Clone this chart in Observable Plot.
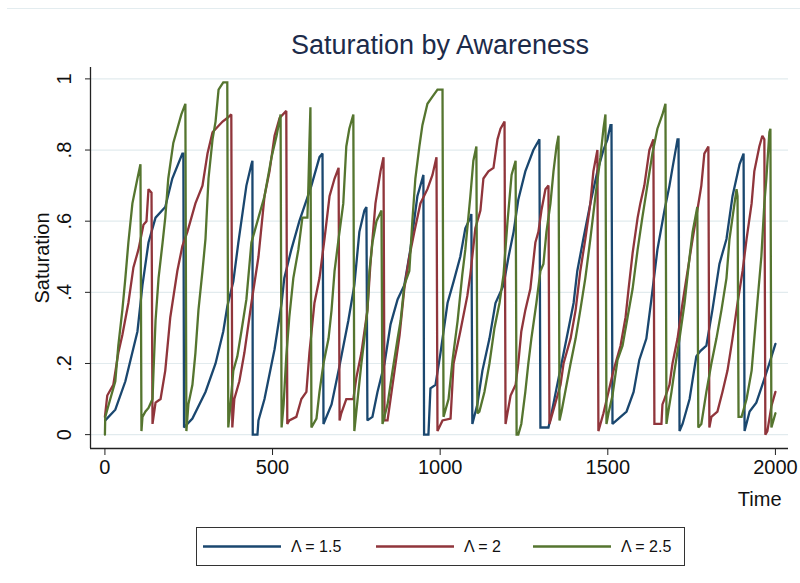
<!DOCTYPE html>
<html>
<head>
<meta charset="utf-8">
<script src="https://cdn.jsdelivr.net/npm/d3@7"></script>
<script src="https://cdn.jsdelivr.net/npm/@observablehq/plot@0.6"></script>
<style>
  html, body { margin: 0; padding: 0; background: #fff; }
  #wrap { position: relative; width: 800px; height: 583px; overflow: hidden; font-family: "Liberation Sans", Arial, sans-serif; }
  #topline { position: absolute; left: 7px; right: 0; top: 8px; height: 0; border-top: 1px solid #e3ecef; }
  #title { position: absolute; left: 90px; width: 700px; top: 32px; text-align: center; font-size: 27px; line-height: 27px; color: #1c2b4a; }
  #chart { position: absolute; left: 0; top: 0; }
  #legend { position: absolute; left: 196px; top: 527px; }
</style>
</head>
<body>
<div id="wrap">
  <div id="topline"></div>
  <div id="chart"></div>
  <div id="title">Saturation by Awareness</div>
  <svg id="legend" width="490" height="40"></svg>
</div>
<script>
// ---- data: [time, saturation] ----
const sat15 = [
  [1,.04],[31,.07],[61,.15],[97,.29],[112,.42],[130,.54],[151,.61],[180,.64],[201,.72],[231,.79],[234,.79],[236,.02],
  [261,.045],[300,.12],[330,.20],[353,.29],[365,.36],[383,.43],[398,.54],[422,.70],[437,.76],[440,.77],[441,0],
  [455,0],[458,.04],[476,.10],[506,.24],[527,.37],[535,.44],[556,.52],[580,.60],[616,.70],[640,.78],[649,.79],[652,.03],
  [676,.085],[697,.18],[726,.32],[744,.42],[759,.57],[774,.63],[780,.64],[783,.04],
  [798,.05],[813,.12],[834,.20],[852,.31],[873,.38],[893,.42],[911,.52],[932,.67],[947,.72],[950,.73],[952,0],
  [965,0],[971,.13],[986,.14],[1001,.23],[1022,.37],[1040,.43],[1060,.50],[1075,.58],[1090,.61],[1093,.62],[1096,.03],
  [1111,.085],[1126,.18],[1147,.27],[1165,.37],[1189,.42],[1204,.50],[1219,.57],[1233,.66],[1254,.74],[1278,.80],[1296,.83],[1299,.02],
  [1323,.02],[1329,.045],[1347,.13],[1377,.27],[1398,.37],[1409,.46],[1427,.55],[1448,.65],[1469,.74],[1487,.80],[1499,.83],[1508,.87],[1511,.87],[1514,.03],
  [1526,.04],[1556,.065],[1577,.12],[1594,.21],[1615,.27],[1630,.38],[1648,.52],[1669,.63],[1684,.70],[1693,.75],[1708,.83],[1711,.83],[1714,.01],
  [1723,.03],[1744,.10],[1764,.22],[1776,.235],[1794,.25],[1812,.35],[1833,.48],[1854,.55],[1872,.67],[1893,.76],[1905,.79],[1908,.01],
  [1923,.065],[1943,.09],[1961,.14],[1982,.20],[2000,.255]
];
const sat2 = [
  [0,.05],[7,.11],[25,.14],[40,.23],[52,.28],[70,.37],[85,.47],[100,.52],[115,.59],[124,.60],[130,.69],[139,.68],[142,.03],
  [151,.09],[166,.10],[180,.18],[195,.33],[216,.46],[231,.53],[246,.57],[270,.65],[291,.70],[306,.79],[321,.85],[351,.88],[365,.89],[377,.90],[380,.02],
  [386,.10],[401,.15],[416,.23],[437,.37],[458,.50],[476,.67],[491,.74],[506,.84],[521,.89],[541,.91],[544,.03],
  [550,.04],[571,.05],[586,.10],[601,.12],[610,.23],[625,.37],[640,.44],[655,.55],[670,.67],[685,.72],[697,.75],[700,.04],
  [705,.06],[720,.10],[741,.10],[750,.16],[765,.23],[783,.35],[792,.48],[807,.65],[822,.74],[831,.78],[834,.04],
  [843,.04],[852,.10],[864,.18],[879,.28],[893,.41],[908,.50],[923,.57],[941,.65],[962,.69],[977,.73],[989,.78],[992,.01],
  [1007,.04],[1031,.045],[1040,.20],[1060,.29],[1081,.39],[1090,.45],[1105,.58],[1120,.63],[1129,.72],[1144,.74],[1159,.75],[1171,.83],[1180,.86],[1192,.88],[1195,.03],
  [1210,.11],[1225,.14],[1233,.20],[1242,.29],[1254,.35],[1269,.41],[1284,.54],[1293,.57],[1302,.63],[1314,.69],[1323,.70],[1326,.03],
  [1332,.05],[1347,.10],[1359,.14],[1368,.20],[1389,.27],[1404,.35],[1418,.46],[1433,.55],[1448,.65],[1457,.74],[1469,.80],[1472,.01],
  [1478,.03],[1487,.06],[1502,.12],[1517,.18],[1538,.25],[1553,.33],[1562,.41],[1574,.51],[1589,.61],[1597,.65],[1609,.70],[1624,.80],[1636,.83],[1639,.03],
  [1660,.03],[1663,.085],[1669,.10],[1684,.14],[1693,.20],[1708,.27],[1723,.37],[1738,.46],[1753,.55],[1767,.63],[1779,.70],[1788,.79],[1800,.81],[1803,.02],
  [1809,.05],[1827,.065],[1842,.12],[1857,.18],[1872,.27],[1887,.37],[1902,.46],[1914,.55],[1929,.65],[1937,.74],[1952,.81],[1961,.84],[1967,.83],[1970,0],
  [1976,.01],[1988,.08],[2000,.12]
];
const sat25 = [
  [0,0],[1,.05],[16,.10],[31,.15],[40,.25],[52,.35],[61,.44],[70,.54],[82,.65],[97,.72],[106,.76],[109,.01],
  [112,.05],[121,.065],[130,.075],[142,.10],[145,.18],[151,.32],[160,.44],[172,.54],[180,.61],[189,.72],[204,.82],[216,.86],[228,.90],[240,.93],[243,.01],
  [249,.085],[261,.14],[270,.23],[279,.35],[291,.46],[300,.55],[309,.72],[321,.83],[330,.88],[339,.97],[353,.99],[365,.99],[368,.02],
  [374,.08],[383,.18],[395,.22],[407,.29],[422,.38],[437,.54],[458,.61],[476,.67],[497,.78],[512,.84],[524,.90],[527,.02],
  [533,.085],[541,.22],[550,.33],[562,.44],[577,.52],[589,.61],[604,.61],[607,.70],[610,.82],[613,.92],[616,.02],
  [631,.045],[640,.12],[652,.20],[667,.27],[676,.35],[685,.46],[697,.55],[711,.65],[720,.81],[729,.86],[741,.90],[744,.01],
  [756,.12],[765,.20],[774,.27],[783,.35],[789,.46],[798,.54],[810,.60],[825,.63],[828,.03],
  [843,.085],[858,.18],[873,.27],[882,.32],[893,.42],[908,.46],[917,.60],[926,.72],[938,.81],[947,.87],[962,.93],[977,.95],[992,.97],[1007,.97],[1010,.05],
  [1025,.10],[1037,.21],[1052,.32],[1066,.45],[1075,.52],[1090,.67],[1099,.77],[1108,.81],[1111,.06],
  [1117,.065],[1132,.12],[1147,.20],[1162,.30],[1177,.37],[1189,.45],[1201,.60],[1213,.73],[1225,.77],[1228,0],
  [1233,0],[1242,.03],[1254,.12],[1263,.20],[1272,.27],[1287,.37],[1299,.46],[1308,.48],[1317,.57],[1329,.65],[1338,.74],[1347,.81],[1353,.84],[1356,.04],
  [1362,.065],[1377,.14],[1389,.20],[1404,.27],[1418,.35],[1433,.44],[1448,.55],[1463,.67],[1478,.78],[1487,.86],[1493,.90],[1496,.03],
  [1502,.06],[1514,.11],[1529,.21],[1544,.25],[1559,.33],[1574,.41],[1589,.52],[1603,.61],[1618,.70],[1633,.79],[1648,.86],[1663,.90],[1672,.93],[1675,.03],
  [1678,.05],[1690,.12],[1699,.18],[1714,.27],[1729,.37],[1744,.50],[1753,.57],[1767,.64],[1770,.02],
  [1779,.03],[1794,.12],[1809,.20],[1824,.27],[1839,.35],[1854,.44],[1863,.55],[1872,.61],[1884,.69],[1887,.67],[1890,.05],
  [1899,.05],[1914,.10],[1929,.18],[1937,.27],[1946,.37],[1958,.50],[1967,.65],[1973,.72],[1982,.85],[1985,.86],[1988,.02],
  [1994,.04],[2000,.06]
];
const seriesNames = ["Λ = 1.5", "Λ = 2", "Λ = 2.5"];
const xTicks = [0, 500, 1000, 1500, 2000];
const yTicks = [0, .2, .4, .6, .8, 1];
const xTitle = "Time";
const yTitle = "Saturation";

// ---- chart ----
const colors = ["#1a476f", "#90353b", "#55752f"];
const rows = [sat15, sat2, sat25].flatMap((arr, i) => arr.map(([t, v]) => ({t, v, s: seriesNames[i]})));
const xDomain = [-43, 2039];
const yDomain = [-0.039, 1.032];
const fmtY = d => d === 0 ? "0" : d === 1 ? "1" : String(d).replace(/^0/, "");

const chart = Plot.plot({
  width: 800,
  height: 520,
  marginLeft: 90,
  marginRight: 12,
  marginTop: 67,
  marginBottom: 72,
  style: {fontFamily: "Liberation Sans, Arial, sans-serif", fontSize: "20px", color: "#111", background: "transparent"},
  x: {domain: xDomain},
  y: {domain: yDomain},
  color: {domain: seriesNames, range: colors},
  marks: [
    Plot.ruleY(yTicks, {stroke: "#e2ebee", strokeWidth: 1.2}),
    Plot.line(rows, {x: "t", y: "v", z: "s", stroke: "s", strokeWidth: 2.3, strokeLinejoin: "miter", strokeMiterlimit: 2}),
    Plot.ruleX([xDomain[0]], {stroke: "#222", strokeWidth: 1.3}),
    Plot.ruleY([yDomain[0]], {stroke: "#222", strokeWidth: 1.3}),
    Plot.axisX({ticks: xTicks, tickSize: 7, tickPadding: 4, tickFormat: d => String(d), label: null, fontSize: 20, stroke: "#222"}),
    Plot.axisY({ticks: yTicks, tickSize: 5, tickFormat: () => "", label: null, stroke: "#222"}),
    Plot.text(yTicks, {frameAnchor: "left", y: d => d, text: fmtY, rotate: -90, textAnchor: "middle", lineAnchor: "bottom", dx: -20, fontSize: 20, fill: "#111"}),
    Plot.text([yTitle], {frameAnchor: "left", text: d => d, rotate: -90, textAnchor: "middle", lineAnchor: "bottom", dx: -42, fontSize: 20, fill: "#111"}),
    Plot.text([xTitle], {frameAnchor: "bottom-right", text: d => d, textAnchor: "end", lineAnchor: "bottom", dx: -7, dy: 57, fontSize: 20, fill: "#111"})
  ]
});
document.getElementById("chart").appendChild(chart);

// ---- legend ----
const lg = d3.select("#legend");
lg.append("rect").attr("x", 0.5).attr("y", 0.5).attr("width", 488).attr("height", 38)
  .attr("fill", "#fff").attr("stroke", "#333").attr("stroke-width", 1);
const lgX = [7, 180, 337];
seriesNames.forEach((name, i) => {
  const g = lg.append("g").attr("transform", `translate(${lgX[i]},19.5)`);
  g.append("line").attr("x1", 0).attr("x2", 78).attr("y1", 0).attr("y2", 0)
    .attr("stroke", colors[i]).attr("stroke-width", 2.3);
  g.append("text").attr("x", 88).attr("y", 0).attr("dy", "0.35em")
    .attr("font-size", 16).attr("fill", "#111").attr("font-family", "Liberation Sans, Arial, sans-serif").text(name);
});
</script>
</body>
</html>
